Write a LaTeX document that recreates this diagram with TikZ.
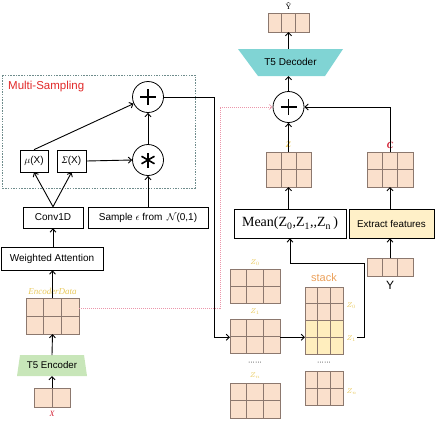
\documentclass[tikz,border=0pt]{standalone}
\usepackage{fontspec}
\setmainfont{Liberation Sans}
\newfontfamily\serifnum{Liberation Serif}
\usetikzlibrary{arrows.meta,calc}
\definecolor{peach}{RGB}{250,224,204}
\definecolor{cellline}{RGB}{140,120,110}
\definecolor{cellyel}{RGB}{255,238,190}
\definecolor{zyel}{RGB}{232,200,90}
\definecolor{redlab}{RGB}{210,30,50}
\definecolor{msred}{RGB}{225,40,40}
\definecolor{encgreen}{RGB}{200,230,185}
\definecolor{deccyan}{RGB}{128,212,212}
\definecolor{extyel}{RGB}{255,240,200}
\definecolor{pinkline}{RGB}{235,150,170}
\definecolor{stackorange}{RGB}{235,160,90}
\definecolor{msdash}{RGB}{110,140,140}
\tikzset{
  arr/.style={line width=0.9pt,-{Straight Barb[length=3.2pt,width=6pt]}},
  labbox/.style={draw, line width=0.7pt, inner sep=0pt, font=\fontsize{10}{11}\selectfont},
  opcircle/.style={draw, circle, line width=0.8pt, minimum size=31pt, inner sep=0pt},
  cellbox/.style={inner sep=0pt, outer sep=0pt},
  ylab/.style={text=zyel, font=\serifnum\itshape\fontsize{7.5}{8}\selectfont, inner sep=0.5pt},
}
% name, x0, y0, x1, y1, cols, rows, fill
\newcommand{\cellgrid}[8]{%
  \node[cellbox, minimum width={(#4-#2)*1pt}, minimum height={(#5-#3)*1pt}] (#1) at ({(#2+#4)/2},{(#3+#5)/2}) {};
  \foreach \cc in {1,...,#6}{\foreach \rr in {1,...,#7}{%
    \draw[fill=#8, draw=cellline, line width=0.6pt]
      ({#2+(\cc-1)*(#4-#2)/#6},{#3+(\rr-1)*(#5-#3)/#7}) rectangle
      ({#2+\cc*(#4-#2)/#6},{#3+\rr*(#5-#3)/#7});}}%
}
\begin{document}
\begin{tikzpicture}[x=1pt,y=-1pt]
\useasboundingbox (0,0) rectangle (435,421);
% ---------- left part ----------
\draw[msdash, line width=0.5pt, dash pattern=on 1.5pt off 1.2pt] (2,75) rectangle (195,188);
\node[anchor=west, text=msred, font=\fontsize{11.5}{12}\selectfont, inner sep=0pt] (mslab) at (8,87) {Multi-Sampling};
\node[opcircle] (plusL) at (148,97) {};
\draw[line width=1.6pt] ($(plusL)+(-8,0)$) -- ($(plusL)+(8,0)$) ($(plusL)+(0,-8)$) -- ($(plusL)+(0,8)$);
\node[opcircle] (star) at (148,160) {};
\foreach \a in {90,30,150}{\draw[line width=1.6pt] ($(star)+(\a:7.5)$) -- ($(star)+(\a+180:7.5)$);}
\node[labbox, minimum width=28pt, minimum height=22pt] (mu) at (34,161) {$\mu$(X)};
\node[labbox, minimum width=29pt, minimum height=22pt] (sig) at (71.5,161) {{\serifnum\itshape Σ}(X)};
\node[labbox, minimum width=60pt, minimum height=21pt] (conv) at (53,217.5) {Conv1D};
\node[labbox, minimum width=120pt, minimum height=21pt] (sample) at (148,217.5) {Sample $\epsilon$ from \,$\mathcal{N}$(0,1)};
\node[labbox, minimum width=102pt, minimum height=23pt] (wa) at (52,258.5) {Weighted Attention};
\node[ylab, font=\serifnum\itshape\fontsize{9}{9}\selectfont] (enclab) at (52.5,291.5) {EncoderData};
\cellgrid{enc}{26}{298}{79}{334}{3}{2}{peach}
\draw[fill=encgreen, draw=none] (20,355) -- (84,355) -- (87,376) -- (17,376) -- cycle;
\coordinate (encT) at (52,355);
\coordinate (encB) at (52,376);
\node[font=\fontsize{9.7}{10}\selectfont, inner sep=0pt] (enctext) at (52,365.5) {T5 Encoder};
\cellgrid{xg}{34}{388}{70}{407}{2}{1}{peach}
\node[text=redlab, font=\serifnum\itshape\fontsize{8}{8}\selectfont, inner sep=0pt] (xlab) at (52,414) {X};
% left connectors
\draw[arr] (conv.north) -- (mu.south);
\draw[arr] (conv.north) -- (sig.south);
\draw[arr] (mu.north) -- (plusL);
\draw[arr] (sig.east) -- (star.west);
\draw[arr] (sample.north) -- (star.south);
\draw[arr] (star.north) -- (plusL.south);
\draw[arr] (wa.north -| conv.south) -- (conv.south);
\draw[arr] (enc.north -| enclab) -- (wa.south -| enclab);
\draw[arr] (encT) -- (enclab.south |- enc.south);
\draw[arr] (xg.north) -- (encB);
% ---------- right part ----------
\node[font=\serifnum\fontsize{8}{8}\selectfont, inner sep=0pt] (yhatlab) at (288.5,6.5) {Ŷ};
\cellgrid{yhat}{268}{13}{309}{32}{3}{1}{peach}
\draw[fill=deccyan, draw=none] (238,49) -- (343,49) -- (325,76) -- (258,76) -- cycle;
\coordinate (decT) at (288.5,49);
\coordinate (decB) at (288.5,76);
\node[font=\fontsize{10}{11}\selectfont, inner sep=0pt] (dectext) at (290.5,62) {T5 Decoder};
\node[opcircle] (plusR) at (288.5,107) {};
\draw[line width=1.6pt] ($(plusR)+(-8,0)$) -- ($(plusR)+(8,0)$) ($(plusR)+(0,-8)$) -- ($(plusR)+(0,8)$);
\node[ylab, font=\serifnum\itshape\bfseries\fontsize{8.5}{9}\selectfont] (zlab) at (288.5,145) {Z};
\cellgrid{zg}{266}{152}{311}{187}{3}{2}{peach}
\node[text=redlab, font=\serifnum\itshape\bfseries\fontsize{9.5}{10}\selectfont, inner sep=0pt] (clab) at (390,145) {C};
\cellgrid{cg}{367}{152}{413}{187}{3}{2}{peach}
\node[draw, line width=0.7pt, minimum width=112pt, minimum height=29pt, inner sep=0pt, font=\serifnum\fontsize{14}{14}\selectfont] (mean) at (290,223.5)
  {Mean(Z\textsubscript{0},Z\textsubscript{1},,Z\textsubscript{n}\,)};
\node[draw, line width=0.7pt, fill=extyel, minimum width=85pt, minimum height=29pt, inner sep=0pt, font=\fontsize{9.8}{10}\selectfont] (extract) at (391.5,223.5) {Extract features};
\cellgrid{yg}{367}{258}{413}{276}{3}{1}{peach}
\node[font=\fontsize{12}{12}\selectfont, inner sep=0pt] (ylab2) at (390,285.5) {Y};
% Z column
\node[ylab] (z0lab) at (255,263) {$Z_0$};
\cellgrid{z0}{230}{269}{280}{303}{3}{2}{peach}
\node[ylab] (z1lab) at (255,312) {$Z_1$};
\cellgrid{z1}{230}{319}{280}{353}{3}{2}{peach}
\node[font=\fontsize{7}{8}\selectfont, inner sep=0pt] (dots1) at (255,363) {\textperiodcentered\textperiodcentered\textperiodcentered\textperiodcentered\textperiodcentered\textperiodcentered};
\node[ylab] (znlab) at (255,376) {$Z_n$};
\cellgrid{zn}{230}{383}{280}{418}{3}{2}{peach}
% stack
\node[text=stackorange, font=\fontsize{11}{11}\selectfont, inner sep=0pt] (stacklab) at (324,278) {stack};
\cellgrid{stA}{305}{287}{343}{320.5}{3}{2}{peach}
\cellgrid{stB}{305}{320.5}{343}{354}{3}{2}{cellyel}
\node[ylab, anchor=west] (sz0) at (346,306) {$Z_0$};
\node[ylab, anchor=west] (sz1) at (346,339) {$Z_1$};
\node[font=\fontsize{7}{8}\selectfont, inner sep=0pt] (dots2) at (324,363) {\textperiodcentered\textperiodcentered\textperiodcentered\textperiodcentered\textperiodcentered\textperiodcentered};
\cellgrid{stN}{305}{371}{343}{405}{3}{2}{peach}
\node[ylab, anchor=west] (szn) at (346,392) {$Z_n$};
% right connectors
\draw[arr] (yhat.south |- decT) -- (yhat.south);
\draw[arr] (plusR.north) -- (decB);
\draw[arr] (zg.north -| plusR) -- (plusR.south);
\draw[arr] (cg.north) -- (cg.north |- plusR) -- (plusR.east);
\draw[arr] (mean.north -| zlab) -- (zg.south -| zlab);
\draw[arr] (extract.north -| cg) -- (cg.south);
\draw[arr] (yg.north) -- (extract.south -| yg);
\draw[arr] (z1.east |- stB.west) -- (stB.west);
\draw[arr] ($(sz1.east)+(0,-2)$) -- (364,337) -- (364,263) -| (mean.south);
% long connectors
\draw[arr] (plusL.east) -- (214,97) |- (z1.west |- stB.west);
\draw[pinkline, line width=0.6pt, dash pattern=on 1pt off 1pt, -{Straight Barb[length=3pt,width=5pt]}]
  ($(enc.north east)+(0,10)$) -- (220,308) |- (plusR.west);
\end{tikzpicture}
\end{document}
